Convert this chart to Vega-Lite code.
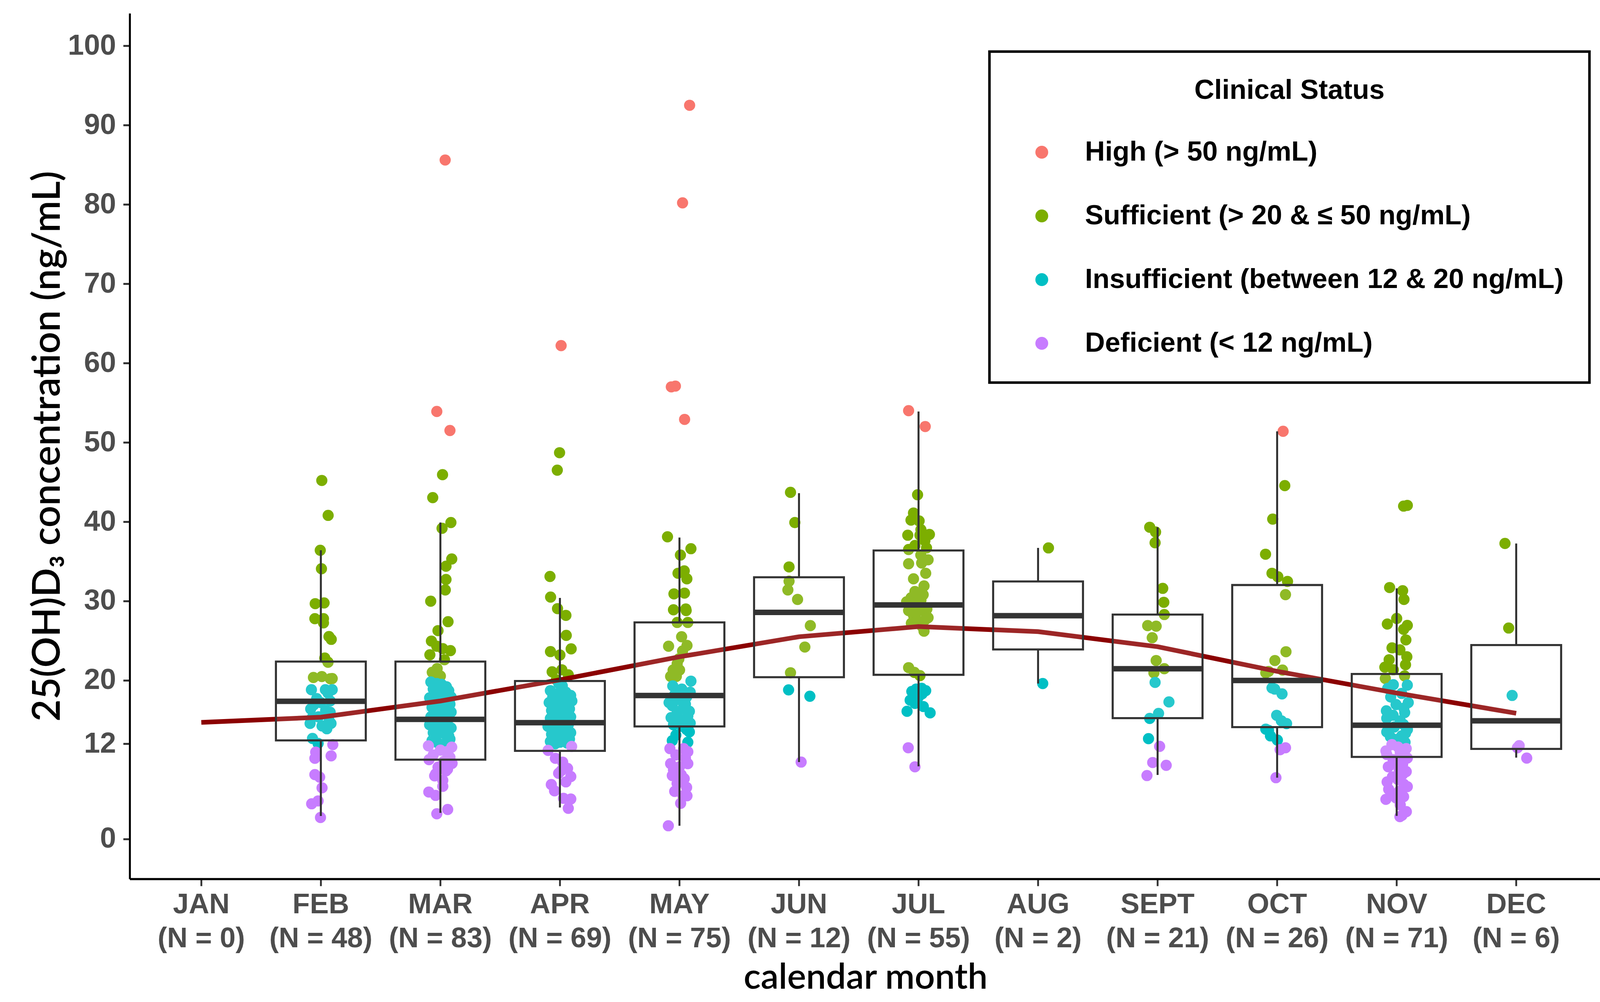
{
  "$schema": "https://vega.github.io/schema/vega-lite/v6.json",
  "width": 3767,
  "height": 2215,
  "autosize": {"type": "none"},
  "padding": {"left": 332, "top": 34, "right": 0, "bottom": 315},
  "background": "white",
  "config": {"view": {"stroke": null}, "legend": {"strokeWidth": 6.5}},
  "datasets": {
    "box": [
      {"m":"FEB","lo":2.9,"q1":12.43,"med":17.36,"q3":22.37,"hi":36.4},
      {"m":"MAR","lo":3.3,"q1":10.0,"med":15.09,"q3":22.37,"hi":39.9},
      {"m":"APR","lo":3.97,"q1":11.11,"med":14.66,"q3":19.92,"hi":30.39},
      {"m":"MAY","lo":1.67,"q1":14.19,"med":18.09,"q3":27.31,"hi":38.0},
      {"m":"JUN","lo":9.7,"q1":20.4,"med":28.57,"q3":33.0,"hi":43.6},
      {"m":"JUL","lo":9.16,"q1":20.7,"med":29.51,"q3":36.37,"hi":53.9},
      {"m":"AUG","lo":19.6,"q1":23.9,"med":28.15,"q3":32.47,"hi":36.7},
      {"m":"SEPT","lo":8.08,"q1":15.24,"med":21.47,"q3":28.29,"hi":39.3},
      {"m":"OCT","lo":7.73,"q1":14.1,"med":19.98,"q3":32.02,"hi":51.4},
      {"m":"NOV","lo":2.91,"q1":10.35,"med":14.34,"q3":20.81,"hi":31.6},
      {"m":"DEC","lo":10.26,"q1":11.36,"med":14.9,"q3":24.45,"hi":37.26}
    ],
    "trend": [
      {"m":"JAN","v":14.7},{"m":"FEB","v":15.36},{"m":"MAR","v":17.4},{"m":"APR","v":20.07},
      {"m":"MAY","v":22.97},{"m":"JUN","v":25.5},{"m":"JUL","v":26.78},{"m":"AUG","v":26.14},
      {"m":"SEPT","v":24.24},{"m":"OCT","v":21.14},{"m":"NOV","v":18.4},{"m":"DEC","v":15.85}
    ],
    "pts": [
      {"m":"FEB","v":45.2,"j":0.008,"s":"S"},{"m":"FEB","v":40.8,"j":0.061,"s":"S"},{"m":"FEB","v":36.4,"j":-0.005,"s":"S"},{"m":"FEB","v":34.07,"j":0.005,"s":"S"},
      {"m":"FEB","v":29.67,"j":-0.047,"s":"S"},{"m":"FEB","v":29.76,"j":0.027,"s":"S"},{"m":"FEB","v":27.78,"j":-0.05,"s":"S"},{"m":"FEB","v":27.78,"j":0.022,"s":"S"},
      {"m":"FEB","v":27.25,"j":0.022,"s":"S"},{"m":"FEB","v":25.52,"j":0.068,"s":"S"},{"m":"FEB","v":25.17,"j":0.087,"s":"S"},{"m":"FEB","v":22.81,"j":0.033,"s":"S"},
      {"m":"FEB","v":22.28,"j":0.06,"s":"S"},{"m":"FEB","v":20.36,"j":-0.062,"s":"S"},{"m":"FEB","v":20.48,"j":0.008,"s":"S"},{"m":"FEB","v":20.2,"j":0.079,"s":"S"},
      {"m":"FEB","v":20.23,"j":0.095,"s":"S"},
      {"m":"FEB","v":18.82,"j":-0.079,"s":"I"},{"m":"FEB","v":18.82,"j":0.038,"s":"I"},{"m":"FEB","v":18.82,"j":0.095,"s":"I"},{"m":"FEB","v":18.4,"j":0.06,"s":"I"},
      {"m":"FEB","v":17.7,"j":-0.035,"s":"I"},{"m":"FEB","v":17.4,"j":0.078,"s":"I"},{"m":"FEB","v":17.2,"j":0.0,"s":"I"},{"m":"FEB","v":16.9,"j":-0.06,"s":"I"},
      {"m":"FEB","v":16.4,"j":-0.085,"s":"I"},{"m":"FEB","v":16.2,"j":0.04,"s":"I"},{"m":"FEB","v":15.98,"j":0.078,"s":"I"},{"m":"FEB","v":15.8,"j":0.038,"s":"I"},
      {"m":"FEB","v":15.4,"j":-0.02,"s":"I"},{"m":"FEB","v":15.36,"j":-0.07,"s":"I"},{"m":"FEB","v":14.9,"j":0.07,"s":"I"},{"m":"FEB","v":14.57,"j":-0.09,"s":"I"},
      {"m":"FEB","v":14.57,"j":0.085,"s":"I"},{"m":"FEB","v":14.25,"j":0.01,"s":"I"},{"m":"FEB","v":13.9,"j":0.05,"s":"I"},{"m":"FEB","v":12.68,"j":-0.07,"s":"I"},
      {"m":"FEB","v":12.05,"j":-0.023,"s":"I"},
      {"m":"FEB","v":11.9,"j":0.1,"s":"D"},{"m":"FEB","v":10.95,"j":-0.043,"s":"D"},{"m":"FEB","v":10.48,"j":0.086,"s":"D"},{"m":"FEB","v":10.17,"j":-0.05,"s":"D"},
      {"m":"FEB","v":8.12,"j":-0.05,"s":"D"},{"m":"FEB","v":7.8,"j":-0.01,"s":"D"},{"m":"FEB","v":6.45,"j":0.01,"s":"D"},{"m":"FEB","v":4.44,"j":-0.077,"s":"D"},
      {"m":"FEB","v":4.8,"j":-0.023,"s":"D"},{"m":"FEB","v":2.71,"j":-0.003,"s":"D"},

      {"m":"MAR","v":85.6,"j":0.04,"s":"H"},{"m":"MAR","v":53.9,"j":-0.03,"s":"H"},{"m":"MAR","v":51.5,"j":0.08,"s":"H"},
      {"m":"MAR","v":45.93,"j":0.018,"s":"S"},{"m":"MAR","v":43.04,"j":-0.064,"s":"S"},{"m":"MAR","v":39.9,"j":0.088,"s":"S"},{"m":"MAR","v":39.17,"j":0.014,"s":"S"},
      {"m":"MAR","v":35.3,"j":0.095,"s":"S"},{"m":"MAR","v":34.39,"j":0.047,"s":"S"},{"m":"MAR","v":32.72,"j":0.047,"s":"S"},{"m":"MAR","v":31.4,"j":0.041,"s":"S"},
      {"m":"MAR","v":29.98,"j":-0.081,"s":"S"},{"m":"MAR","v":27.4,"j":0.064,"s":"S"},{"m":"MAR","v":26.27,"j":-0.02,"s":"S"},{"m":"MAR","v":24.95,"j":-0.075,"s":"S"},
      {"m":"MAR","v":24.0,"j":0.02,"s":"S"},{"m":"MAR","v":23.75,"j":0.084,"s":"S"},{"m":"MAR","v":23.22,"j":-0.088,"s":"S"},{"m":"MAR","v":22.6,"j":0.034,"s":"S"},
      {"m":"MAR","v":21.49,"j":-0.027,"s":"S"},{"m":"MAR","v":21.02,"j":-0.068,"s":"S"},{"m":"MAR","v":20.55,"j":0.0,"s":"S"},{"m":"MAR","v":24.3,"j":-0.03,"s":"S"},
      {"m":"MAR","v":20.9,"j":-0.05,"s":"S"},
      {"m":"MAR","v":19.8,"j":-0.08,"s":"I"},{"m":"MAR","v":19.6,"j":-0.03,"s":"I"},{"m":"MAR","v":19.5,"j":0.01,"s":"I"},{"m":"MAR","v":19.2,"j":0.05,"s":"I"},
      {"m":"MAR","v":18.9,"j":-0.06,"s":"I"},{"m":"MAR","v":18.7,"j":0.07,"s":"I"},{"m":"MAR","v":18.5,"j":0.02,"s":"I"},{"m":"MAR","v":18.2,"j":-0.02,"s":"I"},
      {"m":"MAR","v":17.9,"j":0.09,"s":"I"},{"m":"MAR","v":17.8,"j":-0.09,"s":"I"},{"m":"MAR","v":17.6,"j":0.04,"s":"I"},{"m":"MAR","v":17.4,"j":0.0,"s":"I"},
      {"m":"MAR","v":17.2,"j":-0.05,"s":"I"},{"m":"MAR","v":17.0,"j":0.08,"s":"I"},{"m":"MAR","v":16.8,"j":0.03,"s":"I"},{"m":"MAR","v":16.6,"j":-0.07,"s":"I"},
      {"m":"MAR","v":16.4,"j":0.06,"s":"I"},{"m":"MAR","v":16.2,"j":-0.01,"s":"I"},{"m":"MAR","v":16.0,"j":0.09,"s":"I"},{"m":"MAR","v":15.8,"j":-0.04,"s":"I"},
      {"m":"MAR","v":15.6,"j":0.03,"s":"I"},{"m":"MAR","v":15.4,"j":-0.08,"s":"I"},{"m":"MAR","v":15.2,"j":0.07,"s":"I"},{"m":"MAR","v":15.0,"j":0.0,"s":"I"},
      {"m":"MAR","v":14.8,"j":-0.05,"s":"I"},{"m":"MAR","v":14.6,"j":0.05,"s":"I"},{"m":"MAR","v":14.4,"j":-0.09,"s":"I"},{"m":"MAR","v":14.2,"j":0.02,"s":"I"},
      {"m":"MAR","v":14.0,"j":0.09,"s":"I"},{"m":"MAR","v":13.8,"j":-0.03,"s":"I"},{"m":"MAR","v":13.6,"j":0.06,"s":"I"},{"m":"MAR","v":13.4,"j":-0.06,"s":"I"},
      {"m":"MAR","v":13.2,"j":0.04,"s":"I"},{"m":"MAR","v":13.0,"j":0.07,"s":"I"},{"m":"MAR","v":12.8,"j":-0.04,"s":"I"},{"m":"MAR","v":12.6,"j":0.08,"s":"I"},
      {"m":"MAR","v":12.4,"j":-0.07,"s":"I"},{"m":"MAR","v":12.2,"j":0.05,"s":"I"},{"m":"MAR","v":12.1,"j":-0.02,"s":"I"},
      {"m":"MAR","v":11.74,"j":-0.1,"s":"D"},{"m":"MAR","v":11.58,"j":0.095,"s":"D"},{"m":"MAR","v":11.2,"j":0.0,"s":"D"},{"m":"MAR","v":11.0,"j":0.05,"s":"D"},
      {"m":"MAR","v":10.6,"j":-0.06,"s":"D"},{"m":"MAR","v":10.3,"j":0.08,"s":"D"},{"m":"MAR","v":10.0,"j":-0.095,"s":"D"},{"m":"MAR","v":9.8,"j":0.03,"s":"D"},
      {"m":"MAR","v":9.54,"j":0.098,"s":"D"},{"m":"MAR","v":9.06,"j":-0.02,"s":"D"},{"m":"MAR","v":8.8,"j":0.06,"s":"D"},{"m":"MAR","v":8.59,"j":0.047,"s":"D"},
      {"m":"MAR","v":8.2,"j":-0.04,"s":"D"},{"m":"MAR","v":7.96,"j":-0.048,"s":"D"},{"m":"MAR","v":7.4,"j":0.02,"s":"D"},{"m":"MAR","v":6.64,"j":0.02,"s":"D"},
      {"m":"MAR","v":5.92,"j":-0.097,"s":"D"},{"m":"MAR","v":5.5,"j":-0.04,"s":"D"},{"m":"MAR","v":3.72,"j":0.061,"s":"D"},{"m":"MAR","v":3.18,"j":-0.03,"s":"D"},

      {"m":"APR","v":62.2,"j":0.01,"s":"H"},
      {"m":"APR","v":48.7,"j":-0.003,"s":"S"},{"m":"APR","v":46.5,"j":-0.022,"s":"S"},{"m":"APR","v":33.1,"j":-0.083,"s":"S"},{"m":"APR","v":30.5,"j":-0.078,"s":"S"},
      {"m":"APR","v":29.04,"j":-0.02,"s":"S"},{"m":"APR","v":28.19,"j":0.05,"s":"S"},{"m":"APR","v":25.67,"j":0.053,"s":"S"},{"m":"APR","v":23.63,"j":-0.079,"s":"S"},
      {"m":"APR","v":23.2,"j":0.0,"s":"S"},{"m":"APR","v":23.97,"j":0.094,"s":"S"},{"m":"APR","v":21.08,"j":-0.065,"s":"S"},{"m":"APR","v":21.33,"j":0.016,"s":"S"},
      {"m":"APR","v":20.7,"j":0.07,"s":"S"},{"m":"APR","v":20.07,"j":-0.03,"s":"S"},
      {"m":"APR","v":19.6,"j":-0.01,"s":"I"},{"m":"APR","v":19.3,"j":0.02,"s":"I"},{"m":"APR","v":18.7,"j":-0.08,"s":"I"},{"m":"APR","v":18.5,"j":0.05,"s":"I"},
      {"m":"APR","v":18.3,"j":-0.03,"s":"I"},{"m":"APR","v":18.1,"j":0.09,"s":"I"},{"m":"APR","v":17.9,"j":-0.06,"s":"I"},{"m":"APR","v":17.6,"j":0.03,"s":"I"},
      {"m":"APR","v":17.4,"j":0.1,"s":"I"},{"m":"APR","v":17.2,"j":-0.09,"s":"I"},{"m":"APR","v":17.0,"j":0.0,"s":"I"},{"m":"APR","v":16.8,"j":0.06,"s":"I"},
      {"m":"APR","v":16.6,"j":-0.04,"s":"I"},{"m":"APR","v":16.4,"j":0.08,"s":"I"},{"m":"APR","v":16.2,"j":-0.07,"s":"I"},{"m":"APR","v":16.0,"j":0.02,"s":"I"},
      {"m":"APR","v":15.8,"j":0.05,"s":"I"},{"m":"APR","v":15.6,"j":-0.02,"s":"I"},{"m":"APR","v":15.4,"j":0.09,"s":"I"},{"m":"APR","v":15.2,"j":-0.08,"s":"I"},
      {"m":"APR","v":15.0,"j":0.01,"s":"I"},{"m":"APR","v":14.8,"j":0.04,"s":"I"},{"m":"APR","v":14.6,"j":-0.05,"s":"I"},{"m":"APR","v":14.4,"j":0.07,"s":"I"},
      {"m":"APR","v":14.2,"j":-0.1,"s":"I"},{"m":"APR","v":14.0,"j":0.0,"s":"I"},{"m":"APR","v":13.8,"j":0.06,"s":"I"},{"m":"APR","v":13.6,"j":-0.03,"s":"I"},
      {"m":"APR","v":13.4,"j":0.09,"s":"I"},{"m":"APR","v":13.2,"j":-0.07,"s":"I"},{"m":"APR","v":13.0,"j":0.02,"s":"I"},{"m":"APR","v":12.8,"j":0.05,"s":"I"},
      {"m":"APR","v":12.7,"j":-0.05,"s":"I"},{"m":"APR","v":12.6,"j":0.08,"s":"I"},{"m":"APR","v":12.5,"j":-0.02,"s":"I"},{"m":"APR","v":12.4,"j":0.03,"s":"I"},
      {"m":"APR","v":12.3,"j":-0.08,"s":"I"},{"m":"APR","v":12.2,"j":0.0,"s":"I"},{"m":"APR","v":12.1,"j":0.06,"s":"I"},{"m":"APR","v":12.0,"j":-0.04,"s":"I"},
      {"m":"APR","v":11.67,"j":0.098,"s":"D"},{"m":"APR","v":11.17,"j":-0.099,"s":"D"},{"m":"APR","v":10.17,"j":-0.038,"s":"D"},{"m":"APR","v":9.69,"j":0.023,"s":"D"},
      {"m":"APR","v":8.9,"j":0.064,"s":"D"},{"m":"APR","v":8.6,"j":0.01,"s":"D"},{"m":"APR","v":8.28,"j":-0.011,"s":"D"},{"m":"APR","v":7.87,"j":0.091,"s":"D"},
      {"m":"APR","v":7.2,"j":0.05,"s":"D"},{"m":"APR","v":6.86,"j":-0.072,"s":"D"},{"m":"APR","v":6.07,"j":-0.045,"s":"D"},{"m":"APR","v":5.13,"j":0.03,"s":"D"},
      {"m":"APR","v":5.04,"j":0.091,"s":"D"},{"m":"APR","v":3.87,"j":0.07,"s":"D"},

      {"m":"MAY","v":92.5,"j":0.085,"s":"H"},{"m":"MAY","v":80.2,"j":0.026,"s":"H"},{"m":"MAY","v":57.1,"j":-0.034,"s":"H"},{"m":"MAY","v":57.0,"j":-0.068,"s":"H"},
      {"m":"MAY","v":52.9,"j":0.043,"s":"H"},
      {"m":"MAY","v":38.1,"j":-0.1,"s":"S"},{"m":"MAY","v":36.6,"j":0.096,"s":"S"},{"m":"MAY","v":35.8,"j":0.008,"s":"S"},{"m":"MAY","v":33.8,"j":0.04,"s":"S"},
      {"m":"MAY","v":33.5,"j":-0.012,"s":"S"},{"m":"MAY","v":32.8,"j":0.062,"s":"S"},{"m":"MAY","v":31.0,"j":0.042,"s":"S"},{"m":"MAY","v":30.9,"j":-0.046,"s":"S"},
      {"m":"MAY","v":29.0,"j":0.053,"s":"S"},{"m":"MAY","v":28.9,"j":-0.05,"s":"S"},{"m":"MAY","v":28.8,"j":0.056,"s":"S"},{"m":"MAY","v":27.3,"j":-0.019,"s":"S"},
      {"m":"MAY","v":27.3,"j":0.07,"s":"S"},{"m":"MAY","v":25.5,"j":0.018,"s":"S"},{"m":"MAY","v":24.4,"j":0.063,"s":"S"},{"m":"MAY","v":24.3,"j":-0.091,"s":"S"},
      {"m":"MAY","v":23.7,"j":0.026,"s":"S"},{"m":"MAY","v":22.7,"j":-0.005,"s":"S"},{"m":"MAY","v":22.1,"j":-0.019,"s":"S"},{"m":"MAY","v":21.3,"j":-0.053,"s":"S"},
      {"m":"MAY","v":21.3,"j":0.001,"s":"S"},{"m":"MAY","v":20.5,"j":-0.074,"s":"S"},{"m":"MAY","v":20.5,"j":-0.026,"s":"S"},
      {"m":"MAY","v":19.9,"j":0.096,"s":"I"},{"m":"MAY","v":19.3,"j":-0.056,"s":"I"},{"m":"MAY","v":18.9,"j":0.02,"s":"I"},{"m":"MAY","v":18.5,"j":0.09,"s":"I"},
      {"m":"MAY","v":18.2,"j":-0.04,"s":"I"},{"m":"MAY","v":17.9,"j":0.06,"s":"I"},{"m":"MAY","v":17.7,"j":-0.026,"s":"I"},{"m":"MAY","v":17.5,"j":0.01,"s":"I"},
      {"m":"MAY","v":17.2,"j":-0.087,"s":"I"},{"m":"MAY","v":17.0,"j":0.05,"s":"I"},{"m":"MAY","v":16.8,"j":-0.06,"s":"I"},{"m":"MAY","v":16.5,"j":0.03,"s":"I"},
      {"m":"MAY","v":16.1,"j":0.083,"s":"I"},{"m":"MAY","v":15.9,"j":-0.02,"s":"I"},{"m":"MAY","v":15.8,"j":-0.019,"s":"I"},{"m":"MAY","v":15.5,"j":0.07,"s":"I"},
      {"m":"MAY","v":15.3,"j":-0.07,"s":"I"},{"m":"MAY","v":15.1,"j":0.0,"s":"I"},{"m":"MAY","v":14.9,"j":0.035,"s":"I"},{"m":"MAY","v":14.9,"j":-0.012,"s":"I"},
      {"m":"MAY","v":14.6,"j":0.09,"s":"I"},{"m":"MAY","v":14.4,"j":-0.05,"s":"I"},{"m":"MAY","v":14.2,"j":0.02,"s":"I"},{"m":"MAY","v":13.8,"j":0.06,"s":"I"},
      {"m":"MAY","v":13.5,"j":0.083,"s":"I"},{"m":"MAY","v":13.1,"j":-0.03,"s":"I"},{"m":"MAY","v":12.4,"j":-0.06,"s":"I"},{"m":"MAY","v":12.2,"j":0.07,"s":"I"},
      {"m":"MAY","v":11.4,"j":-0.08,"s":"D"},{"m":"MAY","v":11.4,"j":0.035,"s":"D"},{"m":"MAY","v":11.0,"j":0.07,"s":"D"},{"m":"MAY","v":10.6,"j":-0.03,"s":"D"},
      {"m":"MAY","v":10.2,"j":0.05,"s":"D"},{"m":"MAY","v":9.5,"j":-0.074,"s":"D"},{"m":"MAY","v":9.5,"j":0.07,"s":"D"},{"m":"MAY","v":9.1,"j":0.0,"s":"D"},
      {"m":"MAY","v":8.7,"j":-0.05,"s":"D"},{"m":"MAY","v":8.1,"j":0.015,"s":"D"},{"m":"MAY","v":8.0,"j":-0.06,"s":"D"},{"m":"MAY","v":7.6,"j":0.04,"s":"D"},
      {"m":"MAY","v":7.0,"j":-0.02,"s":"D"},{"m":"MAY","v":6.5,"j":0.06,"s":"D"},{"m":"MAY","v":6.0,"j":-0.04,"s":"D"},{"m":"MAY","v":5.45,"j":0.029,"s":"D"},
      {"m":"MAY","v":5.45,"j":0.063,"s":"D"},{"m":"MAY","v":4.5,"j":0.01,"s":"D"},{"m":"MAY","v":1.67,"j":-0.093,"s":"D"},

      {"m":"JUN","v":43.7,"j":-0.071,"s":"S"},{"m":"JUN","v":39.9,"j":-0.035,"s":"S"},{"m":"JUN","v":34.3,"j":-0.083,"s":"S"},{"m":"JUN","v":32.5,"j":-0.083,"s":"S"},
      {"m":"JUN","v":31.4,"j":-0.093,"s":"S"},{"m":"JUN","v":30.2,"j":-0.012,"s":"S"},{"m":"JUN","v":26.9,"j":0.095,"s":"S"},{"m":"JUN","v":24.2,"j":0.049,"s":"S"},
      {"m":"JUN","v":20.96,"j":-0.071,"s":"S"},{"m":"JUN","v":18.8,"j":-0.087,"s":"I"},{"m":"JUN","v":18.0,"j":0.091,"s":"I"},{"m":"JUN","v":9.7,"j":0.018,"s":"D"},

      {"m":"JUL","v":54.0,"j":-0.083,"s":"H"},{"m":"JUL","v":52.0,"j":0.056,"s":"H"},
      {"m":"JUL","v":43.4,"j":-0.008,"s":"S"},{"m":"JUL","v":41.1,"j":-0.042,"s":"S"},{"m":"JUL","v":40.2,"j":-0.063,"s":"S"},{"m":"JUL","v":40.1,"j":0.005,"s":"S"},
      {"m":"JUL","v":38.3,"j":-0.09,"s":"S"},{"m":"JUL","v":38.3,"j":0.012,"s":"S"},{"m":"JUL","v":38.4,"j":0.091,"s":"S"},{"m":"JUL","v":37.6,"j":0.053,"s":"S"},
      {"m":"JUL","v":36.5,"j":-0.083,"s":"S"},{"m":"JUL","v":36.7,"j":0.067,"s":"S"},{"m":"JUL","v":35.8,"j":0.019,"s":"S"},{"m":"JUL","v":34.7,"j":-0.083,"s":"S"},
      {"m":"JUL","v":34.8,"j":0.026,"s":"S"},{"m":"JUL","v":32.8,"j":-0.042,"s":"S"},{"m":"JUL","v":31.9,"j":0.046,"s":"S"},{"m":"JUL","v":30.8,"j":0.039,"s":"S"},
      {"m":"JUL","v":30.4,"j":-0.063,"s":"S"},{"m":"JUL","v":29.9,"j":-0.1,"s":"S"},{"m":"JUL","v":29.8,"j":-0.015,"s":"S"},{"m":"JUL","v":28.8,"j":-0.083,"s":"S"},
      {"m":"JUL","v":28.8,"j":0.039,"s":"S"},{"m":"JUL","v":28.2,"j":-0.042,"s":"S"},{"m":"JUL","v":27.6,"j":0.053,"s":"S"},{"m":"JUL","v":27.6,"j":-0.015,"s":"S"},
      {"m":"JUL","v":26.2,"j":0.046,"s":"S"},{"m":"JUL","v":21.6,"j":-0.083,"s":"S"},{"m":"JUL","v":21.0,"j":-0.035,"s":"S"},{"m":"JUL","v":20.6,"j":0.012,"s":"S"},
      {"m":"JUL","v":30.1,"j":0.02,"s":"S"},{"m":"JUL","v":29.3,"j":-0.05,"s":"S"},{"m":"JUL","v":29.0,"j":0.07,"s":"S"},{"m":"JUL","v":28.5,"j":-0.02,"s":"S"},
      {"m":"JUL","v":27.9,"j":0.08,"s":"S"},{"m":"JUL","v":27.2,"j":-0.06,"s":"S"},{"m":"JUL","v":26.8,"j":0.03,"s":"S"},{"m":"JUL","v":31.2,"j":-0.03,"s":"S"},
      {"m":"JUL","v":33.5,"j":0.06,"s":"S"},{"m":"JUL","v":39.0,"j":0.02,"s":"S"},{"m":"JUL","v":37.0,"j":-0.03,"s":"S"},{"m":"JUL","v":35.2,"j":0.08,"s":"S"},
      {"m":"JUL","v":19.0,"j":0.026,"s":"I"},{"m":"JUL","v":18.6,"j":-0.056,"s":"I"},{"m":"JUL","v":18.7,"j":0.06,"s":"I"},{"m":"JUL","v":17.9,"j":-0.001,"s":"I"},
      {"m":"JUL","v":17.1,"j":-0.03,"s":"I"},{"m":"JUL","v":16.1,"j":-0.096,"s":"I"},{"m":"JUL","v":15.9,"j":0.097,"s":"I"},{"m":"JUL","v":18.3,"j":0.03,"s":"I"},
      {"m":"JUL","v":17.5,"j":-0.07,"s":"I"},{"m":"JUL","v":18.9,"j":-0.02,"s":"I"},{"m":"JUL","v":16.7,"j":0.04,"s":"I"},
      {"m":"JUL","v":11.5,"j":-0.086,"s":"D"},{"m":"JUL","v":9.1,"j":-0.03,"s":"D"},

      {"m":"AUG","v":36.7,"j":0.087,"s":"S"},{"m":"AUG","v":19.6,"j":0.039,"s":"I"},

      {"m":"SEPT","v":39.3,"j":-0.066,"s":"S"},{"m":"SEPT","v":38.7,"j":-0.017,"s":"S"},{"m":"SEPT","v":37.35,"j":-0.021,"s":"S"},{"m":"SEPT","v":31.6,"j":0.043,"s":"S"},
      {"m":"SEPT","v":29.84,"j":0.052,"s":"S"},{"m":"SEPT","v":28.3,"j":0.056,"s":"S"},{"m":"SEPT","v":26.9,"j":-0.083,"s":"S"},{"m":"SEPT","v":26.83,"j":-0.012,"s":"S"},
      {"m":"SEPT","v":25.38,"j":-0.045,"s":"S"},{"m":"SEPT","v":22.5,"j":-0.012,"s":"S"},{"m":"SEPT","v":21.47,"j":0.056,"s":"S"},{"m":"SEPT","v":20.95,"j":-0.031,"s":"S"},
      {"m":"SEPT","v":19.74,"j":-0.021,"s":"I"},{"m":"SEPT","v":17.28,"j":0.095,"s":"I"},{"m":"SEPT","v":15.83,"j":0.008,"s":"I"},{"m":"SEPT","v":15.2,"j":-0.066,"s":"I"},
      {"m":"SEPT","v":12.65,"j":-0.076,"s":"I"},
      {"m":"SEPT","v":11.68,"j":0.017,"s":"D"},{"m":"SEPT","v":9.64,"j":-0.041,"s":"D"},{"m":"SEPT","v":9.29,"j":0.072,"s":"D"},{"m":"SEPT","v":8.0,"j":-0.089,"s":"D"},

      {"m":"OCT","v":51.4,"j":0.05,"s":"H"},
      {"m":"OCT","v":44.55,"j":0.064,"s":"S"},{"m":"OCT","v":40.33,"j":-0.037,"s":"S"},{"m":"OCT","v":35.9,"j":-0.097,"s":"S"},{"m":"OCT","v":33.5,"j":-0.043,"s":"S"},
      {"m":"OCT","v":33.06,"j":0.006,"s":"S"},{"m":"OCT","v":32.47,"j":0.087,"s":"S"},{"m":"OCT","v":30.81,"j":0.07,"s":"S"},{"m":"OCT","v":23.61,"j":0.074,"s":"S"},
      {"m":"OCT","v":22.5,"j":-0.019,"s":"S"},{"m":"OCT","v":21.3,"j":0.045,"s":"S"},{"m":"OCT","v":21.12,"j":-0.072,"s":"S"},{"m":"OCT","v":20.95,"j":-0.095,"s":"S"},
      {"m":"OCT","v":19.05,"j":-0.043,"s":"I"},{"m":"OCT","v":18.9,"j":-0.02,"s":"I"},{"m":"OCT","v":18.29,"j":0.041,"s":"I"},{"m":"OCT","v":15.59,"j":-0.004,"s":"I"},
      {"m":"OCT","v":14.9,"j":0.035,"s":"I"},{"m":"OCT","v":14.55,"j":0.079,"s":"I"},{"m":"OCT","v":13.85,"j":-0.095,"s":"I"},{"m":"OCT","v":13.7,"j":-0.072,"s":"I"},
      {"m":"OCT","v":13.0,"j":-0.056,"s":"I"},{"m":"OCT","v":12.47,"j":0.002,"s":"I"},
      {"m":"OCT","v":11.26,"j":0.025,"s":"D"},{"m":"OCT","v":11.5,"j":0.07,"s":"D"},{"m":"OCT","v":7.73,"j":-0.01,"s":"D"},

      {"m":"NOV","v":41.97,"j":0.058,"s":"S"},{"m":"NOV","v":42.06,"j":0.089,"s":"S"},{"m":"NOV","v":31.7,"j":-0.059,"s":"S"},{"m":"NOV","v":31.3,"j":0.05,"s":"S"},
      {"m":"NOV","v":30.2,"j":0.061,"s":"S"},{"m":"NOV","v":27.8,"j":0.0,"s":"S"},{"m":"NOV","v":27.1,"j":-0.078,"s":"S"},{"m":"NOV","v":26.93,"j":0.089,"s":"S"},
      {"m":"NOV","v":26.43,"j":0.058,"s":"S"},{"m":"NOV","v":25.1,"j":0.077,"s":"S"},{"m":"NOV","v":24.1,"j":-0.039,"s":"S"},{"m":"NOV","v":23.85,"j":0.027,"s":"S"},
      {"m":"NOV","v":22.97,"j":0.085,"s":"S"},{"m":"NOV","v":22.6,"j":-0.063,"s":"S"},{"m":"NOV","v":21.66,"j":-0.099,"s":"S"},{"m":"NOV","v":21.97,"j":0.074,"s":"S"},
      {"m":"NOV","v":21.34,"j":-0.028,"s":"S"},{"m":"NOV","v":20.24,"j":-0.095,"s":"S"},{"m":"NOV","v":20.56,"j":0.066,"s":"S"},
      {"m":"NOV","v":19.45,"j":-0.028,"s":"I"},{"m":"NOV","v":19.4,"j":0.089,"s":"I"},{"m":"NOV","v":18.99,"j":-0.075,"s":"I"},{"m":"NOV","v":18.36,"j":0.042,"s":"I"},
      {"m":"NOV","v":17.9,"j":-0.05,"s":"I"},{"m":"NOV","v":17.2,"j":0.097,"s":"I"},{"m":"NOV","v":16.95,"j":-0.005,"s":"I"},{"m":"NOV","v":16.5,"j":0.06,"s":"I"},
      {"m":"NOV","v":16.16,"j":-0.086,"s":"I"},{"m":"NOV","v":15.94,"j":0.067,"s":"I"},{"m":"NOV","v":15.6,"j":-0.03,"s":"I"},{"m":"NOV","v":15.22,"j":-0.083,"s":"I"},
      {"m":"NOV","v":14.9,"j":0.03,"s":"I"},{"m":"NOV","v":14.43,"j":0.058,"s":"I"},{"m":"NOV","v":14.12,"j":-0.02,"s":"I"},{"m":"NOV","v":13.8,"j":0.09,"s":"I"},
      {"m":"NOV","v":13.5,"j":-0.083,"s":"I"},{"m":"NOV","v":13.34,"j":0.074,"s":"I"},{"m":"NOV","v":13.0,"j":0.042,"s":"I"},{"m":"NOV","v":12.87,"j":-0.052,"s":"I"},
      {"m":"NOV","v":12.55,"j":0.003,"s":"I"},{"m":"NOV","v":12.2,"j":0.07,"s":"I"},
      {"m":"NOV","v":11.9,"j":-0.04,"s":"D"},{"m":"NOV","v":11.6,"j":0.011,"s":"D"},{"m":"NOV","v":11.4,"j":0.08,"s":"D"},{"m":"NOV","v":11.1,"j":-0.09,"s":"D"},
      {"m":"NOV","v":10.9,"j":0.03,"s":"D"},{"m":"NOV","v":10.66,"j":-0.083,"s":"D"},{"m":"NOV","v":10.4,"j":0.06,"s":"D"},{"m":"NOV","v":10.2,"j":0.089,"s":"D"},
      {"m":"NOV","v":10.0,"j":-0.03,"s":"D"},{"m":"NOV","v":9.72,"j":-0.02,"s":"D"},{"m":"NOV","v":9.4,"j":0.05,"s":"D"},{"m":"NOV","v":9.1,"j":-0.07,"s":"D"},
      {"m":"NOV","v":8.8,"j":0.02,"s":"D"},{"m":"NOV","v":8.5,"j":0.08,"s":"D"},{"m":"NOV","v":8.15,"j":0.05,"s":"D"},{"m":"NOV","v":7.84,"j":-0.036,"s":"D"},
      {"m":"NOV","v":7.5,"j":0.01,"s":"D"},{"m":"NOV","v":7.2,"j":-0.08,"s":"D"},{"m":"NOV","v":6.9,"j":0.06,"s":"D"},{"m":"NOV","v":6.6,"j":0.089,"s":"D"},
      {"m":"NOV","v":6.27,"j":-0.067,"s":"D"},{"m":"NOV","v":6.0,"j":0.02,"s":"D"},{"m":"NOV","v":5.6,"j":-0.04,"s":"D"},{"m":"NOV","v":5.33,"j":0.058,"s":"D"},
      {"m":"NOV","v":5.17,"j":-0.005,"s":"D"},{"m":"NOV","v":5.0,"j":-0.09,"s":"D"},{"m":"NOV","v":4.3,"j":0.03,"s":"D"},{"m":"NOV","v":3.45,"j":0.081,"s":"D"},
      {"m":"NOV","v":3.0,"j":0.045,"s":"D"},{"m":"NOV","v":2.82,"j":0.027,"s":"D"},

      {"m":"DEC","v":37.26,"j":-0.094,"s":"S"},{"m":"DEC","v":26.6,"j":-0.063,"s":"S"},{"m":"DEC","v":18.1,"j":-0.034,"s":"I"},
      {"m":"DEC","v":11.77,"j":0.025,"s":"D"},{"m":"DEC","v":11.5,"j":0.01,"s":"D"},{"m":"DEC","v":10.2,"j":0.088,"s":"D"}
    ]
  },
  "encoding": {
    "x": {
      "field": "m",
      "type": "nominal",
      "sort": null,
      "scale": {
        "domain": ["JAN","FEB","MAR","APR","MAY","JUN","JUL","AUG","SEPT","OCT","NOV","DEC"],
        "paddingInner": 0,
        "paddingOuter": 0.155,
        "align": 0.32
      },
      "axis": {
        "title": "calendar month",
        "titleFont": "Lato",
        "titleFontSize": 91,
        "titleFontWeight": 600,
        "titleColor": "black",
        "titlePadding": 20,
        "labelAngle": 0,
        "labelFont": "Liberation Sans",
        "labelFontWeight": "bold",
        "labelFontSize": 72.5,
        "labelColor": "#4D4D4D",
        "labelLineHeight": 87,
        "labelBaseline": "top",
        "labelPadding": 12,
        "labelLimit": 3000,
        "labelExpr": "[datum.label, datum.label == 'JAN' ? '(N = 0)' : datum.label == 'FEB' ? '(N = 48)' : datum.label == 'MAR' ? '(N = 83)' : datum.label == 'APR' ? '(N = 69)' : datum.label == 'MAY' ? '(N = 75)' : datum.label == 'JUN' ? '(N = 12)' : datum.label == 'JUL' ? '(N = 55)' : datum.label == 'AUG' ? '(N = 2)' : datum.label == 'SEPT' ? '(N = 21)' : datum.label == 'OCT' ? '(N = 26)' : datum.label == 'NOV' ? '(N = 71)' : '(N = 6)']",
        "domainColor": "black",
        "domainWidth": 5.3,
        "tickColor": "#333333",
        "tickWidth": 4.65,
        "tickSize": 18,
        "grid": false
      }
    }
  },
  "layer": [
    {
      "data": {"name": "pts"},
      "mark": {"type": "circle", "size": 820, "opacity": 1},
      "encoding": {
        "xOffset": {"field": "j", "type": "quantitative", "scale": {"domain": [-0.5, 0.5]}},
        "y": {
          "field": "v",
          "type": "quantitative",
          "scale": {"domain": [-5.03, 104.1], "nice": false, "zero": false},
          "axis": {
            "values": [0, 12, 20, 30, 40, 50, 60, 70, 80, 90, 100],
            "title": "25(OH)D₃ concentration (ng/mL)",
            "titleFont": "Lato",
            "titleFontSize": 98,
            "titleFontWeight": 600,
            "titleColor": "black",
            "titlePadding": 0,
            "titleLimit": 5000,
            "labelFont": "Liberation Sans",
            "labelFontWeight": "bold",
            "labelFontSize": 74,
            "labelColor": "#4D4D4D",
            "labelPadding": 18.6,
            "domainColor": "black",
            "domainWidth": 5.1,
            "tickColor": "#333333",
            "tickWidth": 5,
            "tickSize": 16.7,
            "grid": false
          }
        },
        "color": {
          "field": "s",
          "type": "nominal",
          "scale": {"domain": ["H","S","I","D"], "range": ["#F8766D","#7CAE00","#00BFC4","#C77CFF"]},
          "legend": {
            "title": "Clinical Status",
            "orient": "none",
            "legendX": 2201,
            "legendY": 98,
            "padding": 65,
            "fillColor": "white",
            "strokeColor": "black",
            "titleFont": "Liberation Sans",
            "titleFontSize": 70.7,
            "titleFontWeight": "bold",
            "titleColor": "black",
            "titleAnchor": "middle",
            "titlePadding": 86.5,
            "titleLimit": 3000,
            "labelFont": "Liberation Sans",
            "labelFontSize": 70.7,
            "labelFontWeight": "bold",
            "labelColor": "black",
            "labelLimit": 3000,
            "labelOffset": 75.3,
            "symbolType": "circle",
            "symbolSize": 1082,
            "symbolOffset": 33.6,
            "symbolStrokeWidth": 0,
            "rowPadding": 91,
            "labelExpr": "datum.label == 'H' ? 'High (> 50 ng/mL)' : datum.label == 'S' ? 'Sufficient (> 20 & ≤ 50 ng/mL)' : datum.label == 'I' ? 'Insufficient (between 12 & 20 ng/mL)' : 'Deficient (< 12 ng/mL)'"
          }
        }
      }
    },
    {
      "data": {"name": "trend"},
      "mark": {"type": "line", "color": "#8B0000", "strokeWidth": 12},
      "encoding": {"y": {"field": "v", "type": "quantitative"}}
    },
    {
      "data": {"name": "box"},
      "mark": {"type": "rule", "color": "#333333", "strokeWidth": 5.1},
      "encoding": {"y": {"field": "lo", "type": "quantitative"}, "y2": {"field": "q1"}}
    },
    {
      "data": {"name": "box"},
      "mark": {"type": "rule", "color": "#333333", "strokeWidth": 5.1},
      "encoding": {"y": {"field": "q3", "type": "quantitative"}, "y2": {"field": "hi"}}
    },
    {
      "data": {"name": "box"},
      "mark": {"type": "bar", "size": 230, "fill": "white", "fillOpacity": 0.15, "stroke": "#333333", "strokeWidth": 5.3},
      "encoding": {"y": {"field": "q1", "type": "quantitative"}, "y2": {"field": "q3"}}
    },
    {
      "data": {"name": "box"},
      "mark": {"type": "tick", "color": "#333333", "size": 230, "thickness": 14, "opacity": 1},
      "encoding": {"y": {"field": "med", "type": "quantitative"}}
    }
  ]
}
